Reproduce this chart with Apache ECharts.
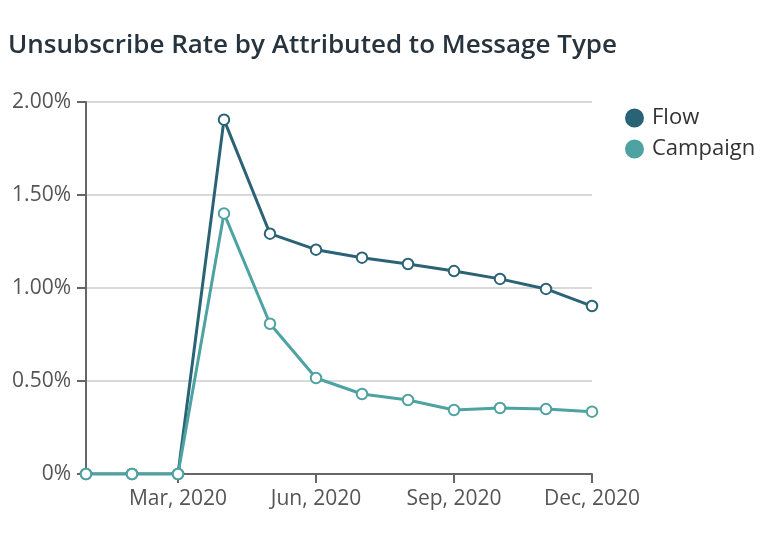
<!DOCTYPE html>
<html>
<head>
<meta charset="utf-8">
<script src="https://cdn.jsdelivr.net/npm/echarts@6/dist/echarts.min.js"></script>
<style>
html,body{margin:0;padding:0;background:#fff;}
#chart{width:762px;height:544px;}
</style>
</head>
<body>
<div id="chart"></div>
<script>
const months = ['Jan, 2020','Feb, 2020','Mar, 2020','Apr, 2020','May, 2020','Jun, 2020','Jul, 2020','Aug, 2020','Sep, 2020','Oct, 2020','Nov, 2020','Dec, 2020'];
const flow = [0, 0, 0, 1.905, 1.292, 1.206, 1.163, 1.129, 1.091, 1.049, 0.995, 0.903];
const campaign = [0, 0, 0, 1.401, 0.808, 0.516, 0.430, 0.398, 0.344, 0.355, 0.349, 0.335];
const yTicks = [0, 0.5, 1.0, 1.5, 2.0];

const FONT = '"Open Sans"';
const chart = echarts.init(document.getElementById('chart'));
const showIdx = (i) => i === 2 || i === 5 || i === 8 || i === 11;
chart.setOption({
  animation: false,
  backgroundColor: '#fff',
  title: {
    text: 'Unsubscribe Rate by Attributed to Message Type',
    left: 3, top: 28,
    textStyle: {fontFamily: FONT, fontSize: 26, fontWeight: 600, color: '#27333d'}
  },
  legend: {
    orient: 'vertical',
    left: 620, top: 102,
    icon: 'circle',
    itemWidth: 17, itemHeight: 17, itemGap: 9,
    textStyle: {fontFamily: FONT, fontSize: 22, lineHeight: 22, color: '#333', padding: [0,0,0,4]},
    data: ['Flow', 'Campaign']
  },
  grid: {left: 86, right: 170, top: 102, bottom: 70, containLabel: false},
  xAxis: {
    type: 'category',
    data: months,
    boundaryGap: false,
    axisLine: {lineStyle: {color: '#666', width: 2}},
    axisTick: {show: true, length: 9, interval: (i) => showIdx(i), lineStyle: {color: '#666', width: 2}},
    axisLabel: {
      interval: (i) => showIdx(i),
      fontFamily: FONT, fontSize: 21, color: '#555', margin: 15
    },
    splitLine: {show: false}
  },
  yAxis: {
    type: 'value',
    min: 0, max: 2, interval: 0.5,
    axisLine: {show: true, lineStyle: {color: '#666', width: 2}},
    axisTick: {show: true, length: 9, lineStyle: {color: '#666', width: 2}},
    axisLabel: {
      fontFamily: FONT, fontSize: 21, color: '#555', margin: 15,
      formatter: (v) => yTicks.includes(v) ? (v === 0 ? '0%' : v.toFixed(2) + '%') : ''
    },
    splitLine: {lineStyle: {color: '#ccc', width: 1.5}}
  },
  series: [
    {
      name: 'Flow', type: 'line', data: flow,
      symbol: 'emptyCircle', symbolSize: 10.5,
      color: '#2b6376',
      lineStyle: {width: 3, color: '#2b6376'},
      itemStyle: {color: '#2b6376', borderWidth: 3.5, borderColor: '#2b6376'}
    },
    {
      name: 'Campaign', type: 'line', data: campaign,
      symbol: 'emptyCircle', symbolSize: 10.5,
      color: '#4ea3a2',
      lineStyle: {width: 3, color: '#4ea3a2'},
      itemStyle: {color: '#4ea3a2', borderWidth: 3.5, borderColor: '#4ea3a2'}
    }
  ]
});
</script>
</body>
</html>
